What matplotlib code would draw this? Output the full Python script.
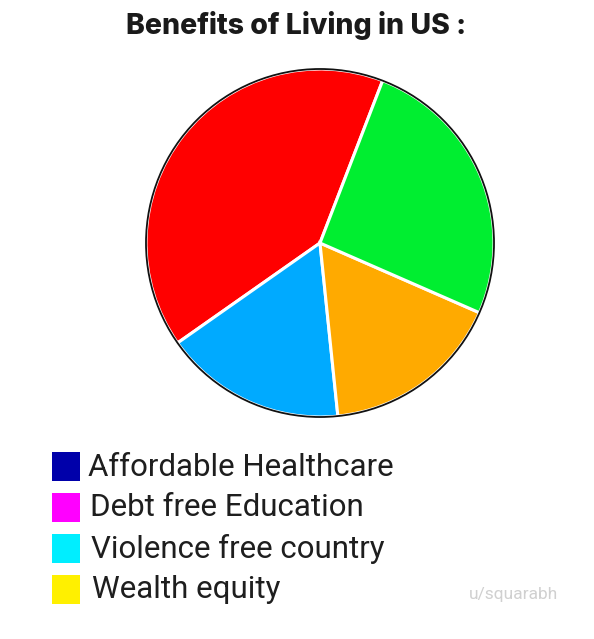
import matplotlib
matplotlib.use("Agg")
import matplotlib.pyplot as plt
from matplotlib.patches import Rectangle, Circle

# Data
slice_names = ["Red", "Blue", "Orange", "Green"]
slice_values = [40.6, 16.9, 16.8, 25.7]
slice_colors = ["#FF0000", "#00AAFF", "#FFAA00", "#00EE30"]

legend_labels = ["Affordable Healthcare", "Debt free Education",
                 "Violence free country", "Wealth equity"]
legend_colors = ["#0000AA", "#FF00FF", "#00EEFF", "#FFF000"]

title = "Benefits of Living in US :"
credit = "u/squarabh"

W, H = 594, 639
fig = plt.figure(figsize=(W / 100, H / 100), dpi=100)
ax = fig.add_axes([0, 0, 1, 1])
ax.set_xlim(0, W)
ax.set_ylim(0, H)
ax.set_aspect("equal")
ax.axis("off")

cx, cy, r = 320, H - 243, 174
ax.pie(slice_values, colors=slice_colors, startangle=68.9, counterclock=True,
       center=(cx, cy), radius=r, frame=True,
       wedgeprops=dict(edgecolor="white", linewidth=2.2))
ax.add_patch(Circle((cx, cy), r, fill=False, edgecolor="#111111", linewidth=1.3, zorder=5))
ax.set_xlim(0, W)
ax.set_ylim(0, H)
ax.axis("off")

ax.text(296, H - 25, title, ha="center", va="center", fontsize=20.5,
        fontweight="heavy", family="Inter", color="#1a1a1a")

for i, (lab, col) in enumerate(zip(legend_labels, legend_colors)):
    top = 452 + i * 41
    ax.add_patch(Rectangle((52, H - top - 29), 28, 29, facecolor=col, edgecolor="none"))
    ax.text(88 + i * 1.5, H - top - 15, lab, ha="left", va="center", fontsize=22.5,
            family="Roboto", color="#1e1e1e")

ax.text(513, H - 595, credit, ha="center", va="center", fontsize=12.5,
        family="Roboto", color="#d0d0d0")

fig.savefig("out.png", dpi=100)
